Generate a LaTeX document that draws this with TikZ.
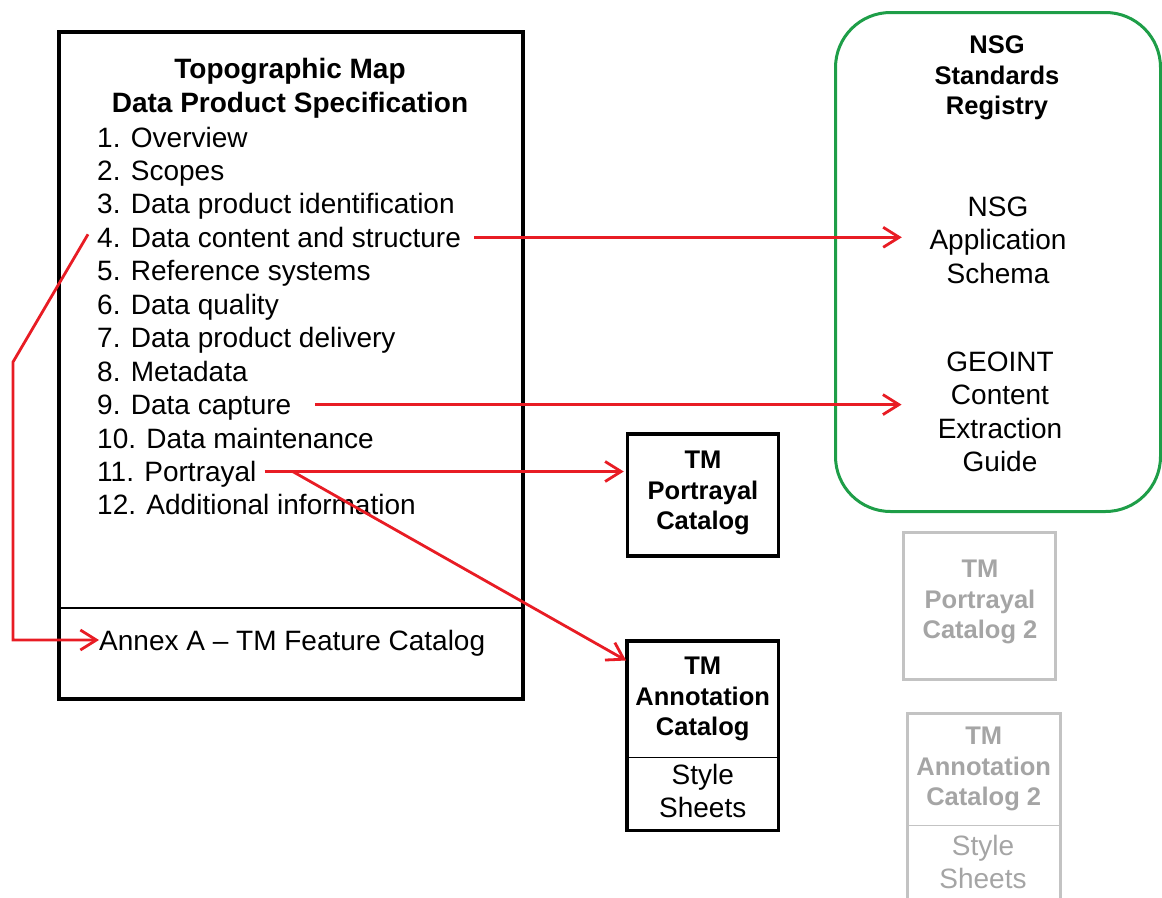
\documentclass[tikz,border=0pt]{standalone}
\usepackage{fontspec}
\setmainfont{Liberation Sans}
\usetikzlibrary{arrows.meta,calc}
\definecolor{arrred}{RGB}{232,28,36}
\definecolor{reggreen}{RGB}{30,158,72}
\definecolor{ghostline}{RGB}{195,195,195}
\definecolor{ghosttext}{RGB}{165,165,165}
\tikzset{
  listitem/.style={anchor=west, inner sep=0pt, font=\fontsize{28}{33.4}\selectfont, text height=24pt, text depth=4pt},
  plain/.style={inner sep=0pt, align=center, font=\fontsize{28}{33.4}\selectfont},
  boldtxt/.style={inner sep=0pt, align=center, font=\fontsize{25.5}{30.5}\selectfont\bfseries},
  bigbold/.style={inner sep=0pt, align=center, font=\fontsize{28}{34}\selectfont\bfseries},
  blackbox/.style={draw=black, line width=3.5pt, inner sep=0pt, align=center},
  greybox/.style={draw=ghostline, line width=3pt, inner sep=0pt, align=center, text=ghosttext},
  conn/.style={draw=arrred, line width=2.8pt, -{Straight Barb[length=16pt,width=20pt,line width=2.8pt]}},
}
\begin{document}
\begin{tikzpicture}[x=1pt,y=-1pt]
\useasboundingbox (0,0) rectangle (1162,897);
\clip (0,0) rectangle (1162,897);

% main specification box
\node[blackbox, minimum width=464pt, minimum height=667pt, anchor=north west] (dps) at (57,30) {};
\coordinate (divy) at (0,608);
\draw[line width=1.8pt] (dps.west |- divy) -- (dps.east |- divy);
\node[bigbold] (title) at (290,88) {Topographic Map\\Data Product Specification};

\node[listitem] (i1) at (97,137.0) {1. Overview};
\node[listitem] (i2) at (97,170.4) {2. Scopes};
\node[listitem] (i3) at (97,203.9) {3. Data product identification};
\node[listitem] (i4) at (97,237.3) {4. Data content and structure};
\node[listitem] (i5) at (97,270.8) {5. Reference systems};
\node[listitem] (i6) at (97,304.2) {6. Data quality};
\node[listitem] (i7) at (97,337.7) {7. Data product delivery};
\node[listitem] (i8) at (97,371.1) {8. Metadata};
\node[listitem] (i9) at (97,404.6) {9. Data capture};
\node[listitem] (i10) at (97,438.0) {10. Data maintenance};
\node[listitem] (i11) at (97,471.5) {11. Portrayal};
\node[listitem] (i12) at (97,504.9) {12. Additional information};
\node[listitem] (annex) at (99,640) {Annex A -- TM Feature Catalog};

% TM portrayal catalog
\node[blackbox, minimum width=151pt, minimum height=122pt] (port) at (703,495) {};
\node[boldtxt] (porttxt) at (703,493) {TM\\Portrayal\\Catalog};

% TM annotation catalog
\node[inner sep=0pt, minimum width=151pt, minimum height=116pt, anchor=north west] (annot) at (627,641) {};
\node[inner sep=0pt, minimum width=151pt, minimum height=73pt, anchor=north west] (sty) at (627,757) {};
\node[boldtxt] (annottxt) at (annot.center) {TM\\Annotation\\Catalog};
\node[plain, yshift=3pt] (stytxt) at (sty.center) {Style\\Sheets};
\draw[line width=1.5pt] (annot.south west) -- (annot.south east);
\draw[line width=3.5pt] (annot.north west) rectangle (sty.south east);

% NSG standards registry
\node[draw=reggreen, line width=3pt, rounded corners=55pt, minimum width=325pt, minimum height=499pt, anchor=north west, inner sep=0pt] (reg) at (834,11) {};
\node[boldtxt] (regtitle) at (997,78) {NSG\\Standards\\Registry};
\node[plain, inner xsep=27.5pt] (schema) at (998,240) {NSG\\Application\\Schema};
\node[plain, inner xsep=36pt] (geoint) at (1000,412) {GEOINT\\Content\\Extraction\\Guide};

% ghost boxes
\node[greybox, minimum width=152pt, minimum height=147pt] (port2) at (979,606) {};
\node[boldtxt, text=ghosttext] (port2txt) at (980,602) {TM\\Portrayal\\Catalog 2};
\node[inner sep=0pt, minimum width=153pt, minimum height=112pt, anchor=north west] (annot2) at (907,713) {};
\node[inner sep=0pt, minimum width=153pt, minimum height=100pt, anchor=north west] (sty2) at (907,825) {};
\node[boldtxt, text=ghosttext] (annot2txt) at (annot2.center) {TM\\Annotation\\Catalog 2};
\node[plain, text=ghosttext] (sty2txt) at (983,862) {Style\\Sheets};
\draw[ghostline, line width=1.5pt] (annot2.south west) -- (annot2.south east);
\draw[ghostline, line width=3pt] (annot2.north west) rectangle (sty2.south east);

% connectors
\draw[conn, shorten <=13pt] (i4.east) -- (i4.east -| schema.west);
\draw[conn, shorten <=24pt] (i9.east) -- (i9.east -| geoint.west);
\draw[conn, shorten <=8pt, shorten >=2pt] (i11.east) -- (i11.east -| port.west);
\coordinate (split) at ($(i11.east)+(36,0)$);
\draw[conn, shorten >=1pt] (split) -- ($(annot.north west)+(0,20)$);
\coordinate (bend1) at (13,362);
\draw[conn] ($(i4.west)+(-9,-3)$) -- (bend1) -- (bend1 |- annex.west) -- (annex.west);
\end{tikzpicture}
\end{document}
